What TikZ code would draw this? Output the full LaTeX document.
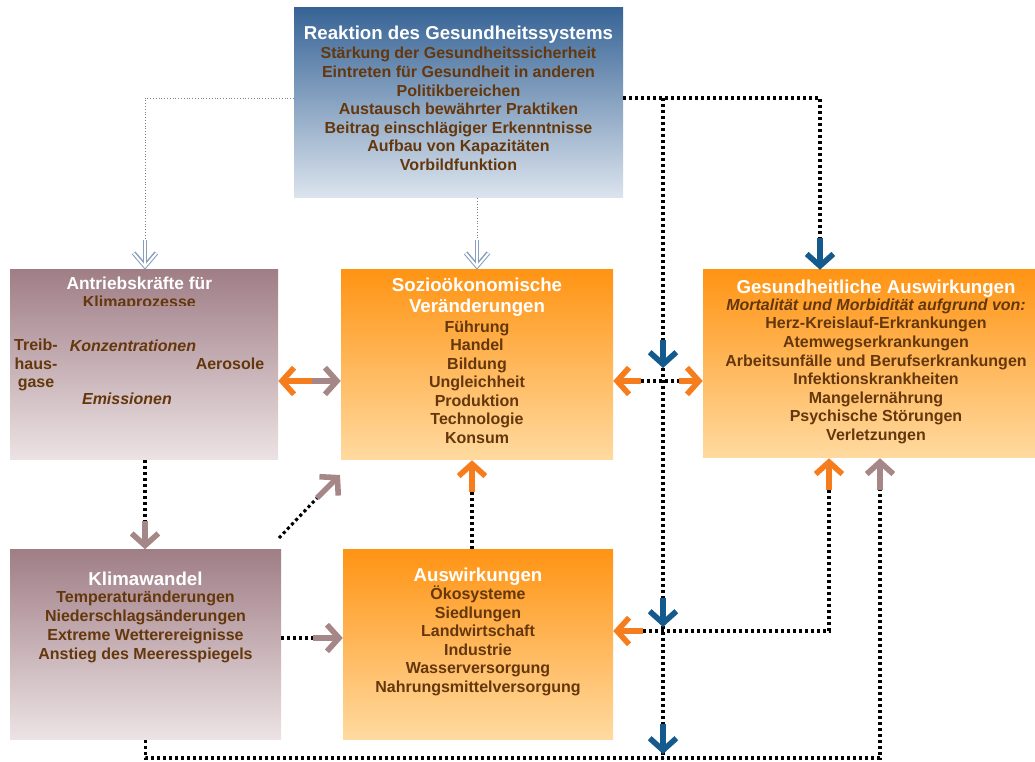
\documentclass[tikz,border=0pt]{standalone}
\usepackage{fontspec}
\setmainfont{Liberation Sans}
\usepackage{xcolor}
\usepackage{tikz}
\usetikzlibrary{arrows.meta,positioning}

\definecolor{braun}{RGB}{100,55,12}
\definecolor{blauoben}{RGB}{55,100,150}
\definecolor{blauunten}{RGB}{220,228,238}
\definecolor{mauveoben}{RGB}{160,126,134}
\definecolor{mauveunten}{RGB}{236,227,229}
\definecolor{orangeoben}{RGB}{255,148,20}
\definecolor{orangeunten}{RGB}{255,218,160}
\definecolor{pfeilorange}{RGB}{245,125,30}
\definecolor{pfeilmauve}{RGB}{165,135,135}
\definecolor{pfeilblau}{RGB}{20,90,140}
\definecolor{hohlblau}{RGB}{135,158,188}

\newcommand{\titel}[1]{{\color{white}\fontsize{14}{15}\selectfont #1}}

\begin{document}
\begin{tikzpicture}[x=0.75pt,y=-0.75pt,
			every node/.style={inner sep=0pt,text=braun,align=center,font=\bfseries\fontsize{12}{13.9}\selectfont},
			kasten/.style={minimum height=142.5pt},
			blaukasten/.style={kasten,top color=blauoben,bottom color=blauunten},
			mauvekasten/.style={kasten,top color=mauveoben,bottom color=mauveunten},
			orangekasten/.style={kasten,top color=orangeoben,bottom color=orangeunten},
			punkte/.style={black,line width=2.3pt,dash pattern=on 2.3pt off 2.2pt},
			feinpunkte/.style={black!50,line width=0.5pt,dash pattern=on 0.5pt off 1.6pt},
			pfeil/.style={line width=4.2pt,-{Straight Barb[length=9pt,width=20pt]}},
			blaupfeil/.style={pfeil,pfeilblau},
			orangepfeil/.style={pfeil,pfeilorange},
			mauvepfeil/.style={pfeil,pfeilmauve},
			hohlpfeil/.style={hohlblau,line width=3.4pt,-{Straight Barb[length=10pt,width=17pt]},
				postaction={draw=white,line width=1.5pt,shorten >=1.2pt,-{Straight Barb[length=10pt,width=17pt]}}}]
	\useasboundingbox (0,0) rectangle (1035,762);

	\node[blaukasten,minimum width=246.75pt] (reaktion) at (458.5,103) {};
	\node[mauvekasten,minimum width=201pt] (antrieb) at (144,365) {};
	\node[orangekasten,minimum width=204pt] (sozio) at (477,365) {};
	\node[orangekasten,minimum width=249pt,minimum height=141pt] (gesund) at (869,364) {};
	\node[mauvekasten,minimum width=203.25pt] (klima) at (145.5,644.5) {};
	\node[orangekasten,minimum width=202.5pt] (ausw) at (478,644.5) {};

	\node[below=13.8pt of reaktion.north] (reaktiontext) {\titel{Reaktion des Gesundheitssystems}\\[0.4pt]
		Stärkung der Gesundheitssicherheit\\
		Eintreten für Gesundheit in anderen\\
		Politikbereichen\\
		Austausch bewährter Praktiken\\
		Beitrag einschlägiger Erkenntnisse\\
		Aufbau von Kapazitäten\\
		Vorbildfunktion};

	\begin{scope}
		\clip (antrieb.north west) rectangle ([yshift=-26.5pt]antrieb.north east);
		\node[below=5pt of antrieb.north,xshift=-3.5pt] (antriebtext) {\color{white}\fontsize{13}{13}\selectfont Antriebskräfte für\\Klimaprozesse};
	\end{scope}
	\node[anchor=north] (treib) at (36,339) {Treib-\\haus-\\gase};
	\node[anchor=base] (konz) at (133,351.7) {\itshape Konzentrationen};
	\node[anchor=base] (aero) at (230,370) {Aerosole};
	\node[anchor=base] (emis) at (127,404.3) {\itshape Emissionen};

	\node[below=6.3pt of sozio.north] (soziotext) {\titel{Sozioökonomische}\\[1.5pt]
		\titel{Veränderungen}\\[1pt]
		Führung\\
		Handel\\
		Bildung\\
		Ungleichheit\\
		Produktion\\
		Technologie\\
		Konsum};

	\node[below=7.3pt of gesund.north,xshift=5.25pt] (gesundtext) {\titel{Gesundheitliche Auswirkungen}\\[-1pt]
		\itshape Mortalität und Morbidität aufgrund von:\\
		Herz-Kreislauf-Erkrankungen\\
		Atemwegserkrankungen\\
		Arbeitsunfälle und Berufserkrankungen\\
		Infektionskrankheiten\\
		Mangelernährung\\
		Psychische Störungen\\
		Verletzungen};

	\node[below=16.8pt of klima.north] (klimatext) {\titel{Klimawandel}\\[-1.3pt]
		Temperaturänderungen\\[0.4pt]
		Niederschlagsänderungen\\[0.4pt]
		Extreme Wetterereignisse\\[0.4pt]
		Anstieg des Meeresspiegels};

	\node[below=13.6pt of ausw.north] (auswtext) {\titel{Auswirkungen}\\[0pt]
		Ökosysteme\\
		Siedlungen\\
		Landwirtschaft\\
		Industrie\\
		Wasserversorgung\\
		Nahrungsmittelversorgung};

	\coordinate (h1) at (145,240);
	\coordinate (h2) at (477,240);
	\coordinate (b1) at (820,238);
	\coordinate (v0) at (663,98);
	\coordinate (jA) at (663,381);
	\coordinate (jB) at (663,631);
	\coordinate (jC) at (663,758);
	\coordinate (m1) at (312,381);
	\coordinate (k1) at (145,521);
	\coordinate (d0) at (279,538);
	\coordinate (d1) at (317,498);
	\coordinate (d2) at (340,475);
	\coordinate (k2) at (313,638);
	\coordinate (a1) at (472,492);
	\coordinate (g1) at (829,490);
	\coordinate (g2) at (880,490);
	\coordinate (bot) at (880,758);

	\draw[feinpunkte] ([yshift=3.75pt]reaktion.west) -| (h1);
	\draw[hohlpfeil] (h1) -- (antrieb.north -| h1);
	\draw[feinpunkte] (reaktion.south -| h2) -- (h2);
	\draw[hohlpfeil] (h2) -- (sozio.north -| h2);

	\draw[punkte] ([yshift=3.75pt]reaktion.east) -| (b1);
	\draw[blaupfeil] (b1) -- (gesund.north -| b1);
	\draw[punkte] (v0) -- (jC);
	\draw[punkte] ([xshift=-16.5pt]jA) -- ([xshift=12pt]jA);
	\draw[orangepfeil] ([xshift=-16.5pt]jA) -- (sozio.east |- jA);
	\draw[orangepfeil] ([xshift=12pt]jA) -- (gesund.west |- jA);
	\draw[blaupfeil] ([yshift=30.75pt]jA) -- ([yshift=9.75pt]jA);
	\draw[blaupfeil] ([yshift=24.75pt]jB) -- ([yshift=3pt]jB);
	\draw[blaupfeil] ([yshift=25.5pt]jC) -- ([yshift=3pt]jC);

	\draw[orangepfeil] (m1) -- (antrieb.east |- m1);
	\draw[mauvepfeil] (m1) -- (sozio.west |- m1);

	\draw[punkte] (antrieb.south -| k1) -- (k1);
	\draw[mauvepfeil] (k1) -- (klima.north -| k1);
	\draw[punkte] (d0) -- (d1);
	\draw[mauvepfeil] (d1) -- (d2);
	\draw[punkte] (klima.east |- k2) -- (k2);
	\draw[mauvepfeil] (k2) -- (ausw.west |- k2);

	\draw[punkte] (ausw.north -| a1) -- (a1);
	\draw[orangepfeil] (a1) -- (sozio.south -| a1);

	\draw[punkte] (g1) |- ([xshift=-15pt]jB);
	\draw[orangepfeil] (g1) -- (gesund.south -| g1);
	\draw[orangepfeil] ([xshift=-15pt]jB) -- (ausw.east |- jB);

	\draw[punkte] (klima.south) |- (bot) -- (g2);
	\draw[mauvepfeil] (g2) -- (gesund.south -| g2);
\end{tikzpicture}
\end{document}
